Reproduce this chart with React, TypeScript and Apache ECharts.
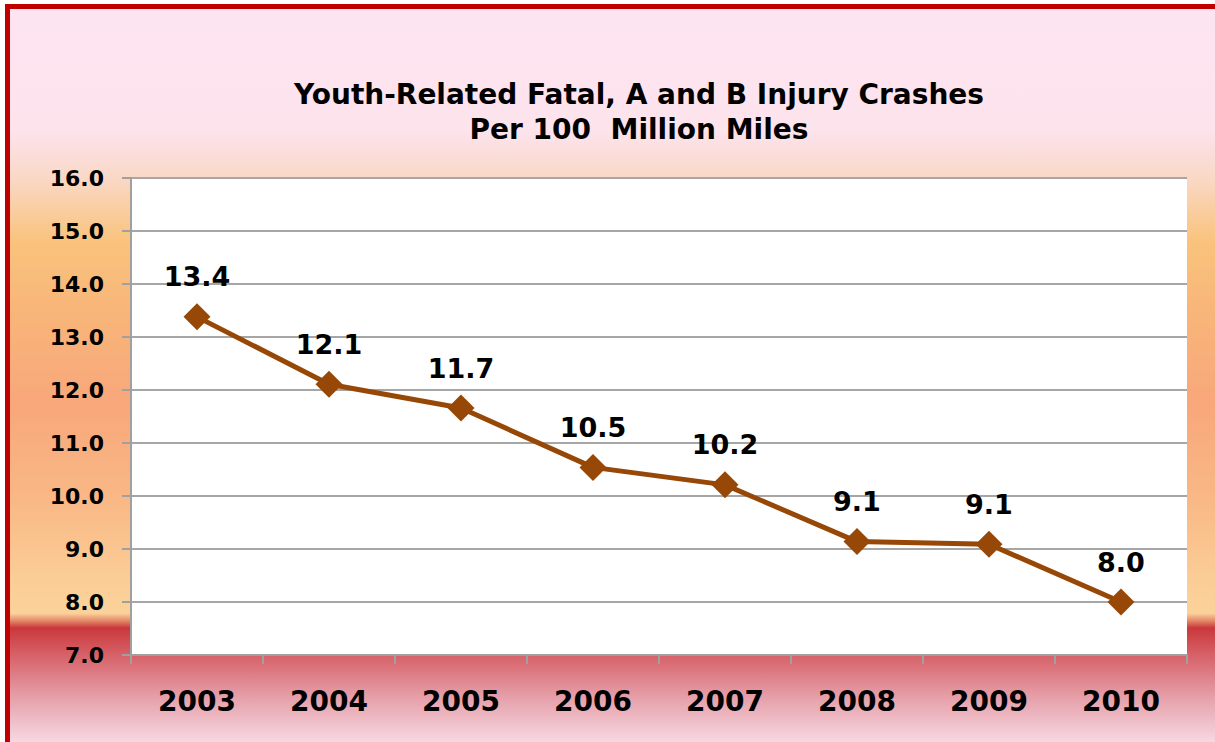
import React, { useEffect, useRef } from "react";
import * as echarts from "echarts";

const years = ["2003", "2004", "2005", "2006", "2007", "2008", "2009", "2010"];
const crashRates = [13.38, 12.11, 11.66, 10.54, 10.21, 9.14, 9.09, 8.0];
const titleLines = ["Youth-Related Fatal, A and B Injury Crashes", "Per 100  Million Miles"];

export default function App() {
  const ref = useRef<HTMLDivElement>(null);
  useEffect(() => {
    document.body.style.margin = "0";
    const chart = echarts.init(ref.current!, null, { renderer: "svg" });
    const bg = new echarts.graphic.LinearGradient(0, 0, 0, 1, [
      { offset: 0, color: "#fde4f1" },
      { offset: 0.17, color: "#fce3ec" },
      { offset: 0.235, color: "#fad8c6" },
      { offset: 0.32, color: "#f9c37c" },
      { offset: 0.42, color: "#f8b579" },
      { offset: 0.54, color: "#f8a77b" },
      { offset: 0.67, color: "#f9b886" },
      { offset: 0.78, color: "#fbcd96" },
      { offset: 0.825, color: "#fbd29b" },
      { offset: 0.835, color: "#e58a6a" },
      { offset: 0.845, color: "#c9383b" },
      { offset: 0.88, color: "#d65f66" },
      { offset: 0.94, color: "#e6a0aa" },
      { offset: 1, color: "#f6d8e2" },
    ]);
    chart.setOption({
      animation: false,
      graphic: [
        {
          type: "rect",
          z: -10,
          silent: true,
          shape: { x: 7, y: 6, width: 1300, height: 736 },
          style: { fill: bg },
        },
        {
          type: "rect",
          z: 100,
          silent: true,
          shape: { x: 7.5, y: 6.5, width: 1300, height: 900 },
          style: { fill: "none", stroke: "#c00000", lineWidth: 5 },
        },
      ],
      title: {
        text: titleLines.join("\n"),
        left: 634,
        top: 72,
        textAlign: "center",
        textStyle: {
          fontFamily: "DejaVu Sans",
          fontWeight: "bold",
          fontSize: 28,
          lineHeight: 35,
          color: "#000",
        },
      },
      grid: {
        left: 131,
        right: 28,
        top: 178,
        bottom: 87,
        show: true,
        backgroundColor: "#ffffff",
        borderWidth: 0,
      },
      xAxis: {
        type: "category",
        data: years,
        boundaryGap: true,
        axisLine: { show: true, lineStyle: { color: "#a0a0a0", width: 2 } },
        axisTick: { show: true, length: 9, interval: 0, lineStyle: { color: "#a0a0a0", width: 2 } },
        axisLabel: {
          margin: 32,
          fontFamily: "DejaVu Sans",
          fontWeight: "bold",
          fontSize: 28,
          color: "#000",
        },
      },
      yAxis: {
        type: "value",
        min: 7,
        max: 16,
        interval: 1,
        axisLine: { show: true, lineStyle: { color: "#a0a0a0", width: 2 } },
        axisTick: { show: true, length: 9, lineStyle: { color: "#a0a0a0", width: 2 } },
        splitLine: { show: true, lineStyle: { color: "#a6a6a6", width: 2 } },
        axisLabel: {
          margin: 27,
          fontFamily: "DejaVu Sans",
          fontWeight: "bold",
          fontSize: 22,
          color: "#000",
          formatter: (v: number) => v.toFixed(1),
        },
      },
      series: [
        {
          type: "line",
          data: crashRates,
          symbol: "diamond",
          symbolSize: 27,
          lineStyle: { color: "#974806", width: 5 },
          itemStyle: { color: "#974806" },
          label: {
            show: true,
            position: "top",
            distance: 13,
            fontFamily: "DejaVu Sans",
            fontWeight: "bold",
            fontSize: 27,
            color: "#000",
            formatter: (p: any) => Number(p.value).toFixed(1),
          },
        },
      ],
    });
    return () => chart.dispose();
  }, []);
  return <div ref={ref} style={{ width: 1215, height: 742 }} />;
}
